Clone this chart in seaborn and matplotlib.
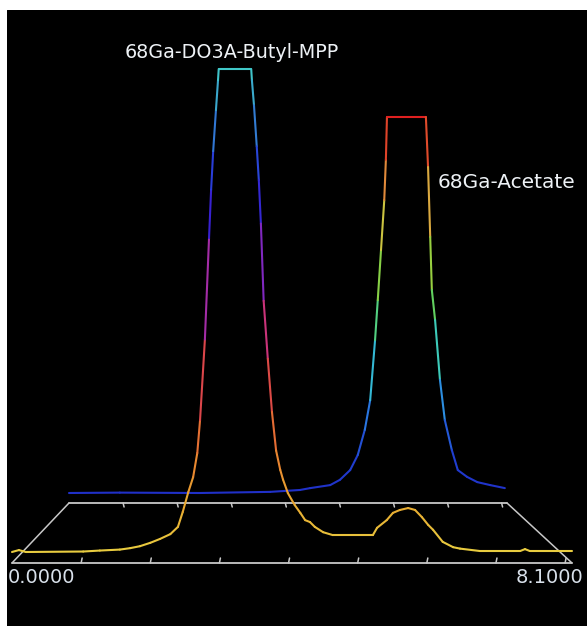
import numpy as np
import seaborn as sns
import matplotlib.pyplot as plt
from matplotlib.collections import LineCollection

# Front trace: 68Ga-DO3A-Butyl-MPP (time in min, intensity in % of full scale, saturated at 100)
front_time = [0.00, 0.10, 0.20, 1.03, 1.27, 1.56, 1.71, 1.85, 2.00, 2.14, 2.29, 2.40, 2.47,
              2.55, 2.62, 2.68, 2.72, 2.79, 2.85, 2.88, 2.91, 2.95, 2.98, 2.99, 3.46, 3.47,
              3.50, 3.54, 3.57, 3.60, 3.64, 3.70, 3.76, 3.82, 3.88, 3.92, 3.99, 4.09, 4.17,
              4.24, 4.31, 4.38, 4.50, 4.64, 4.89, 5.22, 5.28, 5.42, 5.51, 5.61, 5.73, 5.83,
              5.93, 6.02, 6.09, 6.23, 6.38, 6.48, 6.77, 7.35, 7.42, 7.49, 8.10]
front_signal = [0.0, 0.4, 0.0, 0.1, 0.3, 0.5, 0.8, 1.2, 1.9, 2.7, 3.7, 5.2, 8.3,
                12.4, 15.5, 20.5, 27.3, 44.0, 65.0, 75.0, 83.0, 91.5, 97.7, 100.0, 100.0, 97.7,
                92.5, 84.0, 77.0, 68.0, 52.0, 40.0, 29.0, 21.0, 17.0, 15.0, 12.2, 9.7, 8.1,
                6.6, 6.2, 5.2, 4.1, 3.5, 3.5, 3.5, 5.0, 6.6, 8.1, 8.7, 9.1, 8.7,
                7.2, 5.6, 4.6, 2.1, 1.0, 0.7, 0.2, 0.2, 0.6, 0.2, 0.2]

# Back trace: 68Ga-Acetate
back_time = [0.00, 0.94, 2.42, 3.72, 4.27, 4.46, 4.83, 5.01, 5.20, 5.34, 5.47, 5.57, 5.66,
             5.71, 5.77, 5.83, 5.86, 5.88, 6.60, 6.64, 6.68, 6.71, 6.77, 6.86, 6.95, 7.08,
             7.19, 7.36, 7.55, 7.79, 8.06]
back_signal = [0.0, 0.1, 0.0, 0.3, 0.8, 1.3, 2.1, 3.5, 6.1, 10.1, 16.8, 24.7, 40.7,
               51.3, 64.6, 77.9, 88.6, 100.0, 100.0, 86.7, 68.1, 54.0, 46.0, 30.1, 19.4, 11.4,
               6.1, 4.3, 2.9, 2.1, 1.3]

t_max = 8.1
axis_labels = ["0.0000", "8.1000"]
peak_names = ["68Ga-DO3A-Butyl-MPP", "68Ga-Acetate"]

# pseudo-3D layout (pixels): front plane depth 0, back plane depth 1
FRONT_L, FRONT_R, BACK_L, BACK_R = 12, 572, 69, 507
FLOOR_FRONT, FLOOR_BACK = 563, 503
BASE_FRONT, BASE_BACK = 552, 493
PX_FRONT, PX_BACK = 4.83, 3.76


def proj(t, h, depth, base=True):
    t = np.asarray(t, float)
    h = np.asarray(h, float)
    left = FRONT_L + (BACK_L - FRONT_L) * depth
    right = FRONT_R + (BACK_R - FRONT_R) * depth
    x = left + (right - left) * t / t_max
    if base:
        y0 = BASE_FRONT + (BASE_BACK - BASE_FRONT) * depth
    else:
        y0 = FLOOR_FRONT + (FLOOR_BACK - FLOOR_FRONT) * depth
    y = y0 - h * (PX_FRONT + (PX_BACK - PX_FRONT) * depth)
    return x, y


sns.set_style("dark", {"axes.facecolor": "black", "figure.facecolor": "white"})
plt.rcParams['font.family'] = ['DejaVu Sans']

front_cmap = sns.blend_palette(["#e8cc40", "#e8a830", "#e88030", "#e05838", "#d83858", "#c03090",
                                "#8028c0", "#3820d0", "#2840d8", "#3488d0", "#40c8c8"], as_cmap=True)
back_cmap = sns.blend_palette(["#2030c8", "#2040d0", "#2870e0", "#30b0e0", "#40d0b0", "#60d060",
                               "#90d040", "#c8c840", "#e0a040", "#e06030", "#e02020"], as_cmap=True)

fig = plt.figure(figsize=(5.87, 6.26), dpi=100)
ax = fig.add_axes([7 / 587, 0, 580 / 587, 616 / 626])
ax.set_xlim(7, 587)
ax.set_ylim(626, 10)
ax.set_axis_off()
ax.add_patch(plt.Rectangle((7, 10), 580, 616, color="black", zorder=0))

# floor
floor_c = "#c8c8c8"
fx, fy = proj([0, t_max], [0, 0], 0, base=False)
bx, by = proj([0, t_max], [0, 0], 1, base=False)
ax.plot(fx, fy, color=floor_c, lw=1.3, zorder=1)
ax.plot(bx, by, color=floor_c, lw=1.3, zorder=1)
ax.plot([fx[0], bx[0]], [fy[0], by[0]], color=floor_c, lw=1.1, zorder=1)
ax.plot([fx[1], bx[1]], [fy[1], by[1]], color=floor_c, lw=1.1, zorder=1)
for k in range(1, 9):
    x0, y0 = proj([k], [0], 0, base=False)
    ax.plot([x0[0], x0[0] + 1], [y0[0], y0[0] - 5], color=floor_c, lw=1.1, zorder=1)
    x1, y1 = proj([k], [0], 1, base=False)
    ax.plot([x1[0], x1[0] + 1], [y1[0], y1[0] + 4], color=floor_c, lw=1.1, zorder=1)


def trace(t, s, depth, cmap, z):
    x, y = proj(t, s, depth)
    pts = np.column_stack([x, y]).reshape(-1, 1, 2)
    segs = np.concatenate([pts[:-1], pts[1:]], axis=1)
    s = np.asarray(s)
    lc = LineCollection(segs, cmap=cmap, norm=plt.Normalize(0, 100), lw=1.5, zorder=z,
                        capstyle="round", joinstyle="round")
    lc.set_array((s[:-1] + s[1:]) / 2)
    ax.add_collection(lc)


trace(back_time, back_signal, 1, back_cmap, 2)
trace(front_time, front_signal, 0, front_cmap, 3)

# labels
txt_c = "#eef2f6"
ax.text(232, 53, peak_names[0], color=txt_c, fontsize=13.8, ha="center", va="center")
ax.text(438, 183, peak_names[1], color=txt_c, fontsize=14.5, ha="left", va="center", clip_on=True)
ax.text(8, 578, axis_labels[0], color="#d8e0ea", fontsize=14, ha="left", va="center")
ax.text(583, 578, axis_labels[1], color="#d8e0ea", fontsize=14, ha="right", va="center")

fig.savefig("out.png", dpi=100, facecolor="white")
